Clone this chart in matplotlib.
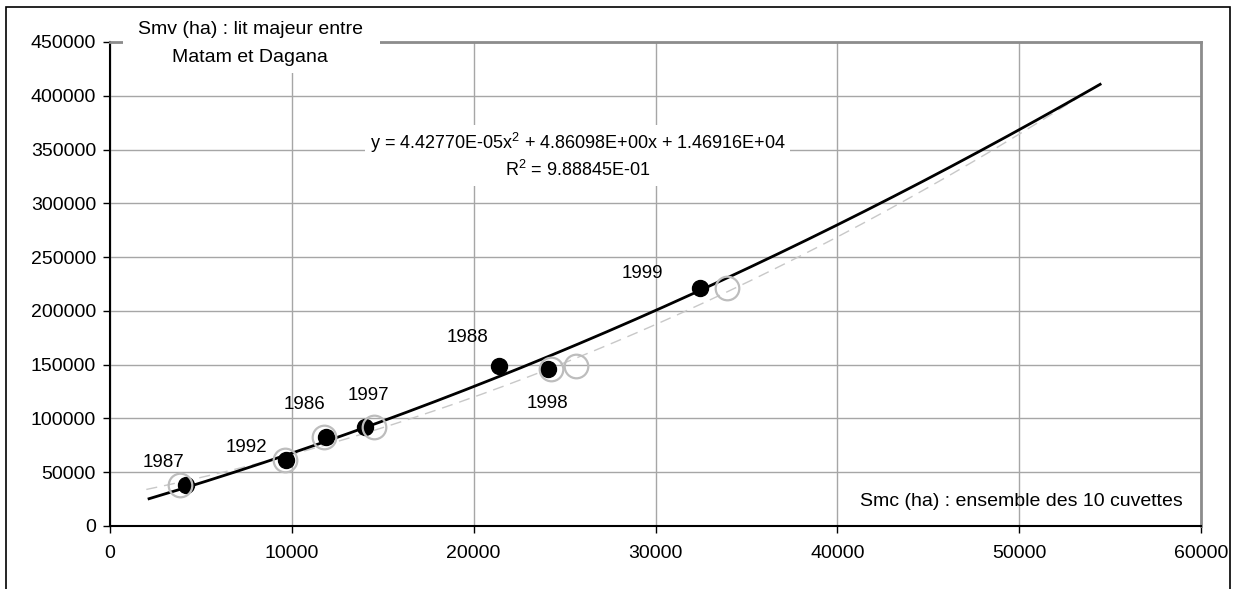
import numpy as np
import matplotlib
matplotlib.use("Agg")
import matplotlib.pyplot as plt
from matplotlib.patches import Rectangle

plt.rcParams['font.family'] = ['Liberation Sans', 'DejaVu Sans']
plt.rcParams['mathtext.fontset'] = 'custom'
plt.rcParams['mathtext.rm'] = 'Liberation Sans'
plt.rcParams['mathtext.it'] = 'Liberation Sans'

# Years of observation
years = ["1987", "1992", "1986", "1997", "1988", "1998", "1999"]
# Smc (ha): surface of the 10 cuvettes, and Smv (ha): lit majeur Matam-Dagana
smc = [4180, 9680, 11880, 14030, 21400, 24090, 32450]
smv = [38100, 61300, 82700, 92000, 148700, 145900, 221200]
# Alternative Smc estimate for the same Smv values
smc_alt = [3850, 9630, 11770, 14520, 25630, 24260, 33940]

# Quadratic trend coefficients (a x^2 + b x + c)
coef = [4.42770e-05, 4.86098e+00, 1.46916e+04]
r2 = 9.88845e-01

# Label offsets (pixels) relative to each point
label_dx = [-22, -40, -21, 3, -32, -1, -58]
label_dy = [22, 13, 33, 32, 29, -34, 15]

fs = 13.5
fig = plt.figure(figsize=(12.34, 5.89), dpi=100)
ax = fig.add_axes([0.0891, 0.1070, 0.8842, 0.8217])

ax.set_xlim(0, 60000)
ax.set_ylim(0, 450000)
ax.set_xticks(np.arange(0, 60001, 10000))
ax.set_yticks(np.arange(0, 450001, 50000))
ax.tick_params(labelsize=14, direction='out', length=5, width=1, colors='black', pad=5)
ax.tick_params(axis='x', pad=9)
ax.set_axisbelow(True)
ax.grid(True, color='#a6a6a6', linewidth=1)
for side in ['top', 'right']:
    ax.spines[side].set_color('#8c8c8c')
    ax.spines[side].set_linewidth(2)
for side in ['left', 'bottom']:
    ax.spines[side].set_color('black')
    ax.spines[side].set_linewidth(1.5)

# Trend of the alternative estimate (quadratic fit)
alt_fit = np.polyfit(smc_alt, smv, 2)
xs = np.linspace(2000, 54500, 300)
ax.plot(xs, np.polyval(alt_fit, xs), color='#c8c8c8', lw=1, ls=(0, (8, 5)), zorder=2)

# Fitted quadratic trend
xt = np.linspace(2150, 54450, 300)
ax.plot(xt, np.polyval(coef, xt), color='black', lw=2, zorder=3)

ax.plot(smc, smv, 'o', color='black', ms=11.5, zorder=4)
ax.plot(smc_alt, smv, 'o', mfc='none', mec='#bdbdbd', mew=1.6, ms=17, zorder=5)

for yr, x, y, dx, dy in zip(years, smc, smv, label_dx, label_dy):
    ax.annotate(yr, (x, y), xytext=(dx, dy), textcoords='offset pixels',
                ha='center', va='center', fontsize=fs, zorder=6)

# Equation box
ax.add_patch(Rectangle((0.2958, 0.6842), 0.3444, 0.1036, transform=fig.transFigure,
                       facecolor='white', edgecolor='none', zorder=1, clip_on=False))
fig.text(0.4684, 1 - 143 / 589,
         'y = 4.42770E-05x$^{2}$ + 4.86098E+00x + 1.46916E+04',
         ha='center', va='center', fontsize=13)
fig.text(0.4684, 1 - 170 / 589, 'R$^{2}$ = 9.88845E-01',
         ha='center', va='center', fontsize=13)

# Axis titles
ax.add_patch(Rectangle((0.0997, 0.8761), 0.2083, 0.0985, transform=fig.transFigure,
                       facecolor='white', edgecolor='none', zorder=10, clip_on=False))
fig.text(0.2026, 1 - 30 / 589, 'Smv (ha) : lit majeur entre',
         ha='center', va='center', fontsize=14, zorder=11)
fig.text(0.2026, 1 - 57 / 589, 'Matam et Dagana',
         ha='center', va='center', fontsize=14, zorder=11)
fig.text(0.9587, 1 - 502 / 589, 'Smc (ha) : ensemble des 10 cuvettes',
         ha='right', va='center', fontsize=14)

# Outer frame
fig.add_artist(Rectangle((6 / 1234, -0.05), 1224 / 1234, 1 - 7 / 589 + 0.05,
                         transform=fig.transFigure, facecolor='none',
                         edgecolor='black', lw=1.2, clip_on=False))

fig.savefig('out.png', dpi=100)
